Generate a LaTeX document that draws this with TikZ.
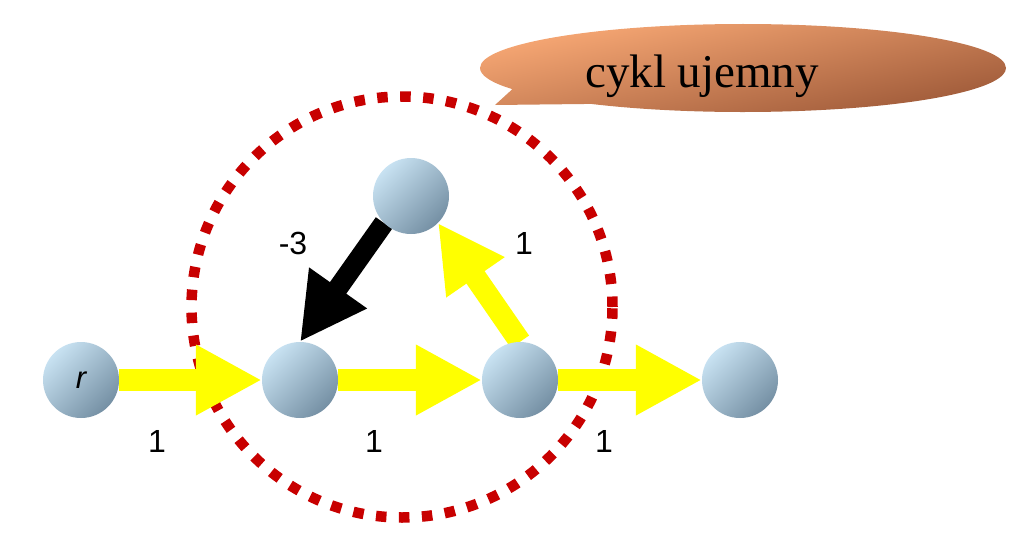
\documentclass[tikz,border=0pt]{standalone}
\usepackage{fontspec}
\setmainfont{Liberation Serif}
\setsansfont{Liberation Sans}
\usetikzlibrary{arrows.meta,shapes.callouts,shapes.geometric}
\definecolor{nodelight}{HTML}{C8E2F2}
\definecolor{nodedark}{HTML}{7590A4}
\definecolor{cycred}{HTML}{C80000}
\definecolor{arrowyellow}{HTML}{FFFF00}
\definecolor{bubblelight}{HTML}{FAAA76}
\definecolor{bubbledark}{HTML}{9A5636}
\pgfdeclarelayer{bg}
\pgfsetlayers{bg,main}
\tikzset{
  vertex/.style={circle, minimum size=76pt, inner sep=0pt, top color=nodelight, bottom color=nodedark, shading angle=45, font=\sffamily\itshape\fontsize{31}{36}\selectfont},
  yarrow/.style={draw=arrowyellow, line width=22pt, -{Triangle[length=66pt,width=66pt]}},
  barrow/.style={draw=black, line width=20pt, -{Triangle[length=66pt,width=66pt]}},
  wlabel/.style={font=\sffamily\fontsize{32}{38}\selectfont, inner sep=0pt},
  cycle ring/.style={circle, minimum size=421pt, inner sep=0pt, draw=cycred, line width=10.5pt, dash pattern=on 10.5pt off 12.5pt},
  bubble/.style={ellipse callout, minimum width=526pt, minimum height=88pt, inner sep=0pt, callout pointer arc=26, top color=bubblelight, bottom color=bubbledark, shading angle=12}
}
\begin{document}
\begin{tikzpicture}[x=1pt,y=-1pt]
\useasboundingbox (0,0) rectangle (1024,543);
\node[vertex] (r) at (81,380) {r};
\node[vertex] (a) at (300,380) {};
\node[vertex] (b) at (520,380) {};
\node[vertex] (c) at (740,380) {};
\node[vertex] (t) at (411,196) {};
\begin{pgfonlayer}{bg}
\node[cycle ring] (ring) at (402,307) {};
\draw[yarrow] (r) -- (a);
\draw[yarrow] (a) -- (b);
\draw[yarrow] (b) -- (c);
\draw[yarrow] (b.north) -- (t.-45);
\draw[barrow] (t.-135) -- (a.north);
\end{pgfonlayer}
\node[wlabel] (l1) at (157,441) {1};
\node[wlabel] (l2) at (374,441) {1};
\node[wlabel] (l3) at (604,441) {1};
\node[wlabel] (l4) at (293,243) {-3};
\node[wlabel] (l5) at (524,243) {1};
\node[bubble, callout absolute pointer={(495,105)}] (callout) at (743,68) {};
\node[font=\fontsize{47}{56}\selectfont, inner sep=0pt, anchor=base] (ctext) at (702,87) {cykl ujemny};
\end{tikzpicture}
\end{document}
